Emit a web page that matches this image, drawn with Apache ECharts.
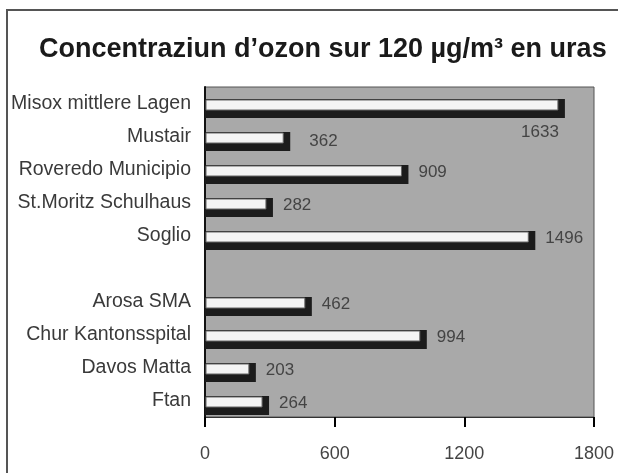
<!DOCTYPE html>
<html>
<head>
<meta charset="utf-8">
<script src="https://cdn.jsdelivr.net/npm/echarts@6/dist/echarts.min.js"></script>
<style>
  html, body { margin: 0; padding: 0; background: #fff; }
  #chart { width: 618px; height: 473px; }
</style>
</head>
<body>
<div id="chart"></div>
<script>
// stations (empty entry = gap between the two groups)
const stations = [
  'Misox mittlere Lagen', 'Mustair', 'Roveredo Municipio', 'St.Moritz Schulhaus', 'Soglio',
  '',
  'Arosa SMA', 'Chur Kantonsspital', 'Davos Matta', 'Ftan'
];
// hours above 120 µg/m3
const hours = [1633, 362, 909, 282, 1496, null, 462, 994, 203, 264];
const xTicks = [0, 600, 1200, 1800];

const font = '"Liberation Sans", Arial, sans-serif';

const chart = echarts.init(document.getElementById('chart'));

// white bar with a dark drop shadow, value label beside it
function renderBar(params, api) {
  const v = api.value(0);
  const idx = api.value(1);
  const start = api.coord([0, idx]);
  const end = api.coord([v, idx]);
  const x0 = start[0], xe = end[0], s = end[1];
  let text = { x: xe + 17, y: s + 3, align: 'left' };
  if (idx === 0) text = { x: xe + 1, y: s + 29, align: 'right' };
  if (idx === 1) text = { x: xe + 26, y: s + 5, align: 'left' };
  return {
    type: 'group',
    children: [
      { type: 'rect', shape: { x: x0, y: s - 4.5, width: xe + 7 - x0, height: 19 },
        style: { fill: '#1c1c1c' } },
      { type: 'rect', shape: { x: x0 + 1, y: s - 3.5, width: xe - x0 - 1, height: 10 },
        style: { fill: '#f4f4f4', stroke: '#666', lineWidth: 1 } },
      { type: 'text', x: text.x, y: text.y,
        style: { text: String(v), align: text.align, verticalAlign: 'middle',
                 font: '17px ' + font, fill: '#444' } }
    ]
  };
}

const barData = [];
hours.forEach(function (v, i) { if (v !== null) barData.push([v, i]); });

chart.setOption({
  animation: false,
  title: {
    text: 'Concentraziun d\u2019ozon sur 120 \u00b5g/m\u00b3 en uras',
    left: 34,
    top: 31,
    textStyle: { fontFamily: font, fontWeight: 'bold', fontSize: 27, color: '#1a1a1a' }
  },
  graphic: [{
    type: 'polyline',
    shape: { points: [[7, 480], [7, 10], [630, 10]] },
    style: { stroke: '#555', lineWidth: 2, fill: null }
  }],
  grid: {
    left: 205, right: 24, top: 87, bottom: 56,
    outerBoundsMode: 'none',
    containLabel: false,
    show: true,
    backgroundColor: '#a9a9a9',
    borderColor: '#555',
    borderWidth: 1
  },
  xAxis: {
    type: 'value',
    min: 0, max: 1800, interval: 600,
    splitLine: { show: false },
    axisLine: { show: true, lineStyle: { color: '#333', width: 1 } },
    axisTick: { show: true, inside: false, length: 10, lineStyle: { color: '#000', width: 2 } },
    axisLabel: {
      margin: 28, fontFamily: font, fontSize: 18, color: '#444',
      formatter: function (v) { return xTicks.indexOf(v) >= 0 ? String(v) : ''; }
    }
  },
  yAxis: {
    type: 'category',
    inverse: true,
    data: stations,
    axisLine: { show: true, lineStyle: { color: '#111', width: 2 } },
    axisTick: { show: false },
    axisLabel: { margin: 14, fontFamily: font, fontSize: 19.5, color: '#3a3a3a' }
  },
  series: [{
    type: 'custom',
    renderItem: renderBar,
    encode: { x: 0, y: 1 },
    clip: true,
    data: barData
  }]
});
</script>
</body>
</html>
